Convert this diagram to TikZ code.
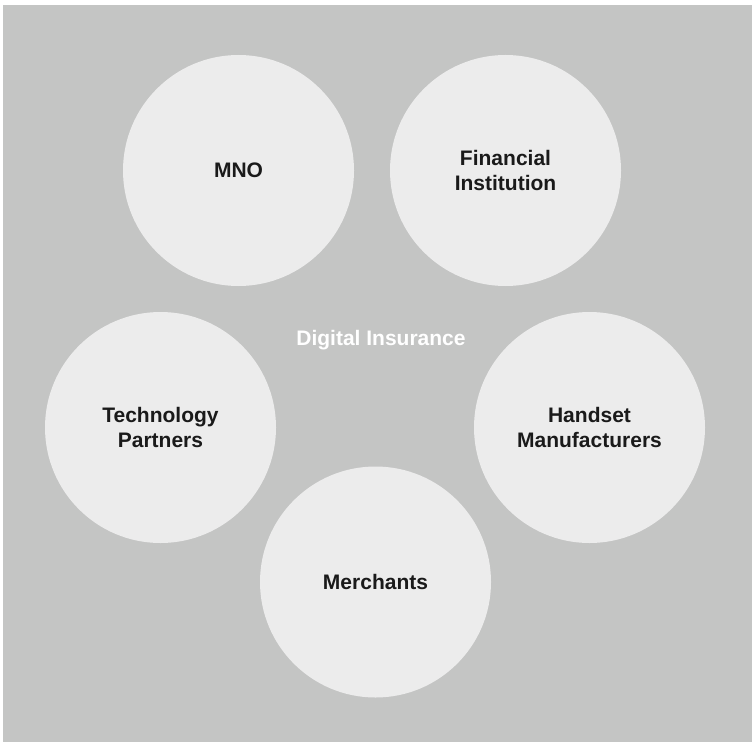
\documentclass[tikz,border=0pt]{standalone}
\usepackage{fontspec}
\setmainfont{Liberation Sans}
\definecolor{bggray}{HTML}{C4C5C4}
\definecolor{circfill}{HTML}{ECECEC}
\definecolor{txtdark}{HTML}{1A1A1A}
\begin{document}
\begin{tikzpicture}[x=1pt,y=-1pt,
  party/.style={circle,fill=circfill,draw=none,minimum size=231pt,inner sep=0pt,
    align=center,text=txtdark,font=\fontsize{21}{25}\selectfont\bfseries},
  hub/.style={text=white,font=\fontsize{21}{25}\selectfont\bfseries}]
\useasboundingbox (0,0) rectangle (754,743);
\fill[bggray] (2.5,5) rectangle (751.5,742);
\node[party] (mno) at (238.5,170.5) {MNO};
\node[party] (fin) at (505.5,170.5) {Financial\\Institution};
\node[party] (tech) at (160.5,427.5) {Technology\\Partners};
\node[party] (hand) at (589.5,427.5) {Handset\\Manufacturers};
\node[party] (merch) at (375.5,582) {Merchants};
\node[hub] (center) at (381,340) {Digital Insurance};
\end{tikzpicture}
\end{document}
